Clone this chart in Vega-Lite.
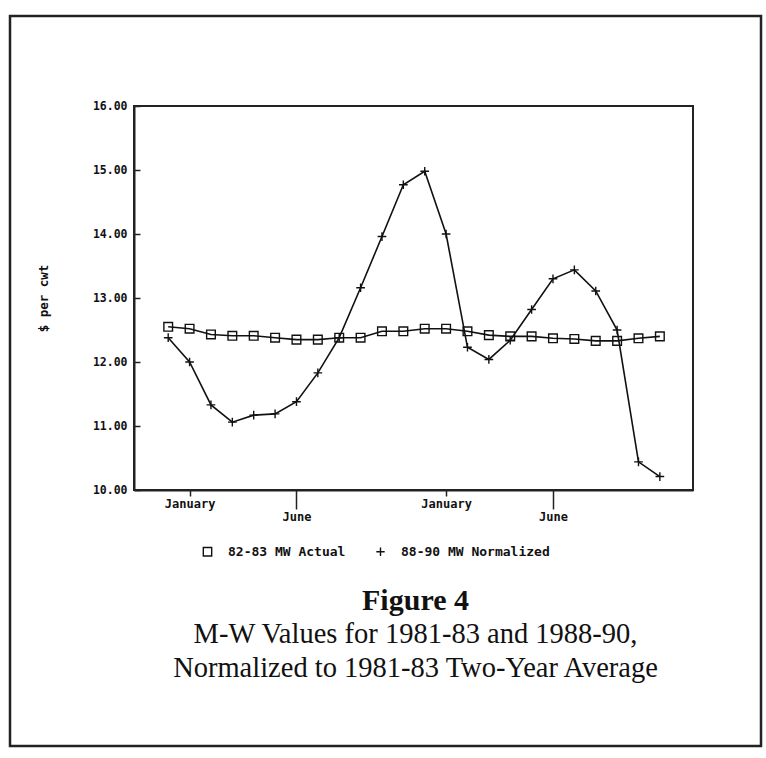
{
  "$schema": "https://vega.github.io/schema/vega-lite/v6.json",
  "width": 751,
  "height": 730,
  "autosize": {"type": "none"},
  "padding": {"left": 10, "top": 16, "right": 5, "bottom": 12},
  "background": "white",
  "config": {
    "view": {"stroke": "#222", "strokeWidth": 2.5},
    "font": "DejaVu Sans Mono"
  },
  "title": {
    "text": "Figure 4",
    "subtitle": ["M-W Values for 1981-83 and 1988-90,", "Normalized to 1981-83 Two-Year Average"],
    "orient": "bottom",
    "anchor": "middle",
    "offset": -160,
    "dx": 30,
    "font": "Liberation Serif",
    "fontSize": 30,
    "fontWeight": "bold",
    "color": "#111",
    "subtitleFont": "Liberation Serif",
    "subtitleFontSize": 28.5,
    "subtitleFontWeight": "normal",
    "subtitleColor": "#111",
    "subtitleLineHeight": 34,
    "subtitlePadding": 4
  },
  "data": {
    "values": [
      {"month": 0, "value": 12.55, "series": "82-83 MW Actual"},
      {"month": 1, "value": 12.52, "series": "82-83 MW Actual"},
      {"month": 2, "value": 12.43, "series": "82-83 MW Actual"},
      {"month": 3, "value": 12.41, "series": "82-83 MW Actual"},
      {"month": 4, "value": 12.41, "series": "82-83 MW Actual"},
      {"month": 5, "value": 12.38, "series": "82-83 MW Actual"},
      {"month": 6, "value": 12.35, "series": "82-83 MW Actual"},
      {"month": 7, "value": 12.35, "series": "82-83 MW Actual"},
      {"month": 8, "value": 12.38, "series": "82-83 MW Actual"},
      {"month": 9, "value": 12.38, "series": "82-83 MW Actual"},
      {"month": 10, "value": 12.48, "series": "82-83 MW Actual"},
      {"month": 11, "value": 12.48, "series": "82-83 MW Actual"},
      {"month": 12, "value": 12.52, "series": "82-83 MW Actual"},
      {"month": 13, "value": 12.52, "series": "82-83 MW Actual"},
      {"month": 14, "value": 12.48, "series": "82-83 MW Actual"},
      {"month": 15, "value": 12.42, "series": "82-83 MW Actual"},
      {"month": 16, "value": 12.40, "series": "82-83 MW Actual"},
      {"month": 17, "value": 12.40, "series": "82-83 MW Actual"},
      {"month": 18, "value": 12.37, "series": "82-83 MW Actual"},
      {"month": 19, "value": 12.36, "series": "82-83 MW Actual"},
      {"month": 20, "value": 12.33, "series": "82-83 MW Actual"},
      {"month": 21, "value": 12.33, "series": "82-83 MW Actual"},
      {"month": 22, "value": 12.37, "series": "82-83 MW Actual"},
      {"month": 23, "value": 12.40, "series": "82-83 MW Actual"},
      {"month": 0, "value": 12.38, "series": "88-90 MW Normalized"},
      {"month": 1, "value": 12.00, "series": "88-90 MW Normalized"},
      {"month": 2, "value": 11.33, "series": "88-90 MW Normalized"},
      {"month": 3, "value": 11.06, "series": "88-90 MW Normalized"},
      {"month": 4, "value": 11.17, "series": "88-90 MW Normalized"},
      {"month": 5, "value": 11.19, "series": "88-90 MW Normalized"},
      {"month": 6, "value": 11.38, "series": "88-90 MW Normalized"},
      {"month": 7, "value": 11.83, "series": "88-90 MW Normalized"},
      {"month": 8, "value": 12.38, "series": "88-90 MW Normalized"},
      {"month": 9, "value": 13.16, "series": "88-90 MW Normalized"},
      {"month": 10, "value": 13.96, "series": "88-90 MW Normalized"},
      {"month": 11, "value": 14.77, "series": "88-90 MW Normalized"},
      {"month": 12, "value": 14.98, "series": "88-90 MW Normalized"},
      {"month": 13, "value": 14.00, "series": "88-90 MW Normalized"},
      {"month": 14, "value": 12.23, "series": "88-90 MW Normalized"},
      {"month": 15, "value": 12.04, "series": "88-90 MW Normalized"},
      {"month": 16, "value": 12.34, "series": "88-90 MW Normalized"},
      {"month": 17, "value": 12.82, "series": "88-90 MW Normalized"},
      {"month": 18, "value": 13.30, "series": "88-90 MW Normalized"},
      {"month": 19, "value": 13.44, "series": "88-90 MW Normalized"},
      {"month": 20, "value": 13.11, "series": "88-90 MW Normalized"},
      {"month": 21, "value": 12.50, "series": "88-90 MW Normalized"},
      {"month": 22, "value": 10.44, "series": "88-90 MW Normalized"},
      {"month": 23, "value": 10.21, "series": "88-90 MW Normalized"}
    ]
  },
  "encoding": {
    "x": {
      "field": "month",
      "type": "quantitative",
      "scale": {"domain": [-1.6, 24.55], "range": [124, 683], "nice": false, "zero": false},
      "axis": {
        "offset": -256,
        "values": [1, 6, 13, 18],
        "labelExpr": "datum.value == 1 || datum.value == 13 ? 'January' : 'June'",
        "title": null,
        "grid": false,
        "domainColor": "#222",
        "domainWidth": 2,
        "tickColor": "#222",
        "tickWidth": 1.5,
        "tickSize": {"condition": {"test": "datum.value == 6 || datum.value == 18", "value": 19}, "value": 6},
        "labelPadding": 2,
        "labelFont": "DejaVu Sans Mono",
        "labelFontSize": 12,
        "labelFontWeight": "bold",
        "labelColor": "#111"
      }
    },
    "y": {
      "field": "value",
      "type": "quantitative",
      "scale": {"domain": [10, 16], "range": [474, 90], "nice": false, "zero": false},
      "axis": {
        "offset": -124,
        "values": [10, 11, 12, 13, 14, 15, 16],
        "format": ".2f",
        "title": "$ per cwt",
        "titleX": -91,
        "titleY": 282,
        "titleAngle": -90,
        "titleAlign": "center",
        "titleBaseline": "middle",
        "titleFont": "DejaVu Sans Mono",
        "titleFontSize": 12.5,
        "titleFontWeight": "bold",
        "titleColor": "#111",
        "grid": false,
        "domainColor": "#222",
        "domainWidth": 2,
        "tickColor": "#222",
        "tickWidth": 1.5,
        "tickSize": -6,
        "labelPadding": 13,
        "labelFont": "DejaVu Sans Mono",
        "labelFontSize": 11.5,
        "labelFontWeight": "bold",
        "labelColor": "#111"
      }
    }
  },
  "layer": [
    {
      "mark": {"type": "rect", "fillOpacity": 0, "stroke": "#222", "strokeWidth": 2},
      "encoding": {
        "x": {"datum": -1.6},
        "x2": {"datum": 24.55},
        "y": {"datum": 10},
        "y2": {"datum": 16}
      }
    },
    {
      "mark": {"type": "line", "color": "#111", "strokeWidth": 1.6, "interpolate": "linear"},
      "encoding": {"detail": {"field": "series", "type": "nominal"}}
    },
    {
      "mark": {"type": "point", "filled": false, "color": "#111", "strokeWidth": 1.4, "size": 75, "opacity": 1},
      "encoding": {
        "shape": {
          "field": "series",
          "type": "nominal",
          "scale": {"domain": ["82-83 MW Actual", "88-90 MW Normalized"], "range": ["square", "M-1,0L1,0M0,-1L0,1"]},
          "legend": {
            "orient": "none",
            "legendX": 191,
            "legendY": 529,
            "direction": "horizontal",
            "title": null,
            "symbolSize": 70,
            "symbolStrokeColor": "#111",
            "symbolStrokeWidth": 1.4,
            "labelFont": "DejaVu Sans Mono",
            "labelFontSize": 13,
            "labelFontWeight": "bold",
            "labelColor": "#111",
            "labelOffset": 14,
            "columnPadding": 27
          }
        }
      }
    }
  ]
}
